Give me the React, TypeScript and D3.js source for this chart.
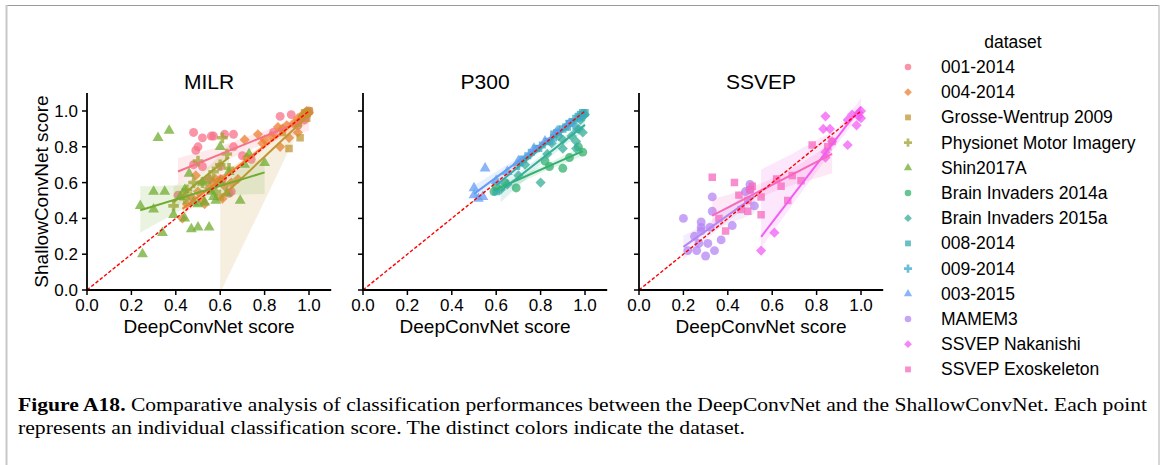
import React, { useMemo } from 'react';
import * as d3 from 'd3';

// ---------------- DATA ----------------
const datasetNames = [
  '001-2014', '004-2014', 'Grosse-Wentrup 2009', 'Physionet Motor Imagery', 'Shin2017A',
  'Brain Invaders 2014a', 'Brain Invaders 2015a', '008-2014', '009-2014', '003-2015',
  'MAMEM3', 'SSVEP Nakanishi', 'SSVEP Exoskeleton',
];
const datasetMarkers = ['circle', 'diamond', 'square', 'plus', 'triangle',
  'circle', 'diamond', 'square', 'plus', 'triangle', 'circle', 'diamond', 'square'];
const panelTitles = ['MILR', 'P300', 'SSVEP'];
const panelDatasets = [[0, 1, 2, 3, 4], [5, 6, 7, 8, 9], [10, 11, 12]];
const tickValues = [0, 0.2, 0.4, 0.6, 0.8, 1.0];
const xLabel = 'DeepConvNet score';
const yLabel = 'ShallowConvNet score';
const legendTitle = 'dataset';

// [DeepConvNet score, ShallowConvNet score]
const bnci001_2014 = [[0.41,0.53],[0.48,0.88],[0.48,0.70],[0.49,0.78],[0.50,0.80],[0.52,0.85],[0.52,0.69],[0.55,0.62],[0.56,0.86],[0.57,0.86],[0.60,0.69],[0.61,0.62],[0.62,0.87],[0.64,0.54],[0.65,0.55],[0.66,0.87],[0.66,0.80],[0.70,0.75],[0.74,0.73],[0.84,0.88],[0.87,0.97],[0.92,0.98],[0.95,0.92],[0.98,0.95],[0.99,0.98],[1.00,1.00]];
const bnci004_2014 = [[0.43,0.40],[0.45,0.48],[0.47,0.52],[0.49,0.64],[0.50,0.55],[0.52,0.50],[0.53,0.48],[0.55,0.57],[0.57,0.60],[0.58,0.62],[0.60,0.62],[0.61,0.51],[0.62,0.58],[0.65,0.60],[0.68,0.62],[0.71,0.84],[0.72,0.74],[0.77,0.87],[0.79,0.82],[0.80,0.84],[0.83,0.86],[0.86,0.91],[0.87,0.80],[0.88,0.90],[0.90,0.92],[0.91,0.85],[0.93,0.93],[0.95,0.88],[0.95,0.96],[0.96,0.95],[0.97,0.97],[0.98,0.99],[0.98,0.97],[0.99,1.00],[0.99,0.98],[1.00,0.99]];
const grosseWentrup2009 = [[0.60,0.52],[0.88,0.88],[0.91,0.79],[0.95,0.93],[0.96,0.85],[0.97,0.97],[0.98,0.99],[0.99,0.96],[0.99,0.99],[1.00,1.00]];
const physionetMI = [[0.39,0.47],[0.44,0.51],[0.45,0.56],[0.48,0.60],[0.50,0.72],[0.52,0.60],[0.55,0.62],[0.57,0.66],[0.58,0.55],[0.60,0.70],[0.61,0.85],[0.63,0.76],[0.64,0.68]];
const shin2017A = [[0.24,0.47],[0.25,0.20],[0.30,0.55],[0.30,0.45],[0.34,0.32],[0.35,0.55],[0.32,0.85],[0.37,0.89],[0.39,0.42],[0.42,0.52],[0.44,0.56],[0.44,0.40],[0.46,0.65],[0.47,0.34],[0.48,0.49],[0.50,0.35],[0.50,0.48],[0.52,0.60],[0.53,0.49],[0.55,0.35],[0.56,0.55],[0.57,0.52],[0.58,0.50],[0.60,0.80],[0.60,0.60],[0.63,0.54],[0.64,0.66],[0.69,0.50],[0.71,0.70],[0.73,0.76],[0.80,0.71]];
const brainInvaders2014a = [[0.59,0.55],[0.60,0.58],[0.64,0.60],[0.69,0.57],[0.82,0.72],[0.84,0.69],[0.90,0.68],[0.93,0.74],[0.97,0.80],[0.99,0.77]];
const brainInvaders2015a = [[0.62,0.56],[0.65,0.59],[0.70,0.64],[0.73,0.70],[0.80,0.60],[0.83,0.76],[0.85,0.82],[0.88,0.86],[0.90,0.79],[0.90,0.84],[0.94,0.86],[0.96,0.79],[0.96,0.83],[0.97,0.90],[0.98,0.95],[0.99,0.88],[0.99,0.97],[1.00,0.98]];
const bnci008_2014 = [[0.60,0.55],[0.72,0.73],[0.78,0.79],[0.83,0.83],[0.86,0.87],[0.88,0.88],[0.90,0.90],[0.92,0.91],[0.93,0.93],[0.95,0.94],[0.96,0.90],[0.97,0.97],[0.98,0.98],[0.99,0.99],[1.00,0.99]];
const bnci009_2014 = [[0.70,0.70],[0.75,0.76],[0.80,0.80],[0.85,0.84],[0.88,0.89],[0.92,0.92],[0.95,0.95],[0.98,0.97]];
const bnci003_2015 = [[0.50,0.53],[0.50,0.57],[0.52,0.51],[0.54,0.52],[0.55,0.68],[0.60,0.61],[0.65,0.66],[0.70,0.72],[0.77,0.79],[0.82,0.83],[0.87,0.88],[0.93,0.93]];
const mamem3 = [[0.20,0.40],[0.22,0.22],[0.25,0.30],[0.26,0.22],[0.27,0.26],[0.28,0.38],[0.28,0.35],[0.28,0.33],[0.30,0.19],[0.31,0.26],[0.32,0.35],[0.33,0.44],[0.33,0.52],[0.34,0.22],[0.37,0.28],[0.42,0.36],[0.48,0.55],[0.50,0.59],[0.50,0.56],[0.52,0.47]];
const ssvepNakanishi = [[0.55,0.22],[0.61,0.32],[0.83,0.90],[0.84,0.97],[0.84,0.77],[0.84,0.74],[0.86,0.90],[0.87,0.83],[0.94,0.81],[0.94,0.95],[0.96,0.98],[0.98,0.92],[0.99,0.97],[0.99,0.99],[1.00,1.00],[1.00,0.96]];
const ssvepExoskeleton = [[0.33,0.63],[0.36,0.40],[0.39,0.33],[0.43,0.60],[0.45,0.53],[0.46,0.45],[0.49,0.44],[0.49,0.50],[0.50,0.56],[0.51,0.58],[0.55,0.52],[0.55,0.42],[0.62,0.62],[0.64,0.58],[0.67,0.50],[0.69,0.64],[0.73,0.61],[0.78,0.81],[0.85,0.80],[0.87,0.83]];

const datasetValues = [bnci001_2014, bnci004_2014, grosseWentrup2009, physionetMI, shin2017A,
  brainInvaders2014a, brainInvaders2015a, bnci008_2014, bnci009_2014, bnci003_2015,
  mamem3, ssvepNakanishi, ssvepExoskeleton];

// ---------------- HUSL palette (seaborn husl_palette) ----------------
const M = [[3.240969941904521, -1.537383177570093, -0.498610760293],
  [-0.96924363628087, 1.87596750150772, 0.041555057407175],
  [0.055630079696993, -0.20397695888897, 1.056971514242878]];
const refU = 0.19783000664283, refV = 0.46831999493879, kappa = 903.2962962, eps = 0.0088564516;
function maxChroma(L: number, H: number) {
  const hrad = (H / 360) * Math.PI * 2;
  const sub1 = Math.pow(L + 16, 3) / 1560896;
  const sub2 = sub1 > eps ? sub1 : L / kappa;
  let min = Infinity;
  for (let c = 0; c < 3; c++) {
    const [m1, m2, m3] = M[c];
    for (let t = 0; t < 2; t++) {
      const top1 = (284517 * m1 - 94839 * m3) * sub2;
      const top2 = (838422 * m3 + 769860 * m2 + 731718 * m1) * L * sub2 - 769860 * t * L;
      const bottom = (632260 * m3 - 126452 * m2) * sub2 + 126452 * t;
      const slope = top1 / bottom, intercept = top2 / bottom;
      const len = intercept / (Math.sin(hrad) - slope * Math.cos(hrad));
      if (len >= 0) min = Math.min(min, len);
    }
  }
  return min;
}
function huslToHex(H: number, S: number, L: number) {
  const C = (maxChroma(L, H) / 100) * S;
  const hr = (H / 360) * Math.PI * 2;
  const U = C * Math.cos(hr), V = C * Math.sin(hr);
  const varU = U / (13 * L) + refU, varV = V / (13 * L) + refV;
  const Y = L <= 8 ? L / kappa : Math.pow((L + 16) / 116, 3);
  const X = 0 - (9 * Y * varU) / ((varU - 4) * varV - varU * varV);
  const Z = (9 * Y - 15 * varV * Y - varV * X) / (3 * varV);
  const lin = M.map(r => r[0] * X + r[1] * Y + r[2] * Z);
  const rgb = lin.map(c => {
    const v = c <= 0.0031308 ? 12.92 * c : 1.055 * Math.pow(c, 1 / 2.4) - 0.055;
    return Math.round(Math.max(0, Math.min(1, v)) * 255);
  });
  return d3.rgb(rgb[0], rgb[1], rgb[2]).formatHex();
}
const datasetColors = datasetNames.map((_, i) => {
  const h = ((i / datasetNames.length + 0.01) % 1) * 359;
  return huslToHex(h, 0.9 * 99, 0.65 * 99);
});

// ---------------- regression with bootstrap CI (as seaborn regplot) ----------------
function regression(pts: number[][], seed: number) {
  const n = pts.length;
  const xs = pts.map(p => p[0]);
  const xmin = d3.min(xs)!, xmax = d3.max(xs)!;
  const grid = d3.range(100).map(i => xmin + ((xmax - xmin) * i) / 99);
  const ols = (sample: number[][]) => {
    const mx = d3.mean(sample, p => p[0])!, my = d3.mean(sample, p => p[1])!;
    let sxx = 0, sxy = 0;
    sample.forEach(p => { sxx += (p[0] - mx) ** 2; sxy += (p[0] - mx) * (p[1] - my); });
    const b = sxx > 1e-12 ? sxy / sxx : 0;
    return [my - b * mx, b];
  };
  const [a, b] = ols(pts);
  const rng = d3.randomLcg(seed);
  const boots: number[][] = grid.map(() => []);
  for (let k = 0; k < 1000; k++) {
    const s: number[][] = [];
    for (let i = 0; i < n; i++) s.push(pts[Math.floor(rng() * n)]);
    const [ba, bb] = ols(s);
    grid.forEach((g, j) => boots[j].push(ba + bb * g));
  }
  const band = grid.map((g, j) => {
    const arr = boots[j].sort(d3.ascending);
    return { x: g, lo: d3.quantileSorted(arr, 0.025)!, hi: d3.quantileSorted(arr, 0.975)! };
  });
  return { line: [[xmin, a + b * xmin], [xmax, a + b * xmax]], band };
}

// ---------------- layout ----------------
const W = 1168, H = 465;
const axisX0 = [87, 363, 639];
const unit = 222;
const yBottom = 290;
const FONT = "'Liberation Sans', Arial, Helvetica, sans-serif";

function markerPath(m: string, size: number) {
  const t = m === 'circle' ? d3.symbolCircle : m === 'plus' ? d3.symbolCross
    : m === 'triangle' ? d3.symbolTriangle : d3.symbolSquare;
  return d3.symbol().type(t).size(size)() as string;
}
const plotSize: Record<string, number> = { circle: 62, diamond: 52, square: 56, plus: 62, triangle: 52 };
const legendSize: Record<string, number> = { circle: 34, diamond: 30, square: 34, plus: 36, triangle: 30 };

function Marker({ m, x, y, size, color, opacity }: any) {
  const tr = m === 'diamond' ? `translate(${x},${y}) rotate(45)` : `translate(${x},${y})`;
  return <path d={markerPath(m, size)} transform={tr} fill={color} fillOpacity={opacity} />;
}

function Panel({ idx, regs }: { idx: number; regs: any[] }) {
  const x0 = axisX0[idx];
  const xs = d3.scaleLinear().domain([0, 1.1]).range([x0, x0 + unit * 1.1]);
  const ys = d3.scaleLinear().domain([0, 1.1]).range([yBottom, yBottom - 179 * 1.1]);
  const ids = panelDatasets[idx];
  const area = d3.area<any>().x(d => xs(d.x)).y0(d => ys(d.lo)).y1(d => ys(d.hi));
  const line = d3.line<number[]>().x(d => xs(d[0])).y(d => ys(d[1]));
  const clipId = `clip${idx}`;
  const cx = (xs(0) + xs(1.1)) / 2;
  return (
    <g>
      <defs>
        <clipPath id={clipId}>
          <rect x={xs(0)} y={ys(1.1)} width={xs(1.1) - xs(0)} height={ys(0) - ys(1.1)} />
        </clipPath>
      </defs>
      <g clipPath={`url(#${clipId})`}>
        {ids.map(di => (
          <g key={di}>
            {datasetValues[di].map((p, k) => (
              <Marker key={k} m={datasetMarkers[di]} x={xs(p[0])} y={ys(p[1])}
                size={plotSize[datasetMarkers[di]]} color={datasetColors[di]} opacity={0.75} />
            ))}
            <path d={area(regs[di].band) as string} fill={datasetColors[di]} fillOpacity={0.15} />
          </g>
        ))}
        {ids.map(di => (
          <path key={di} d={line(regs[di].line as any) as string} stroke={datasetColors[di]}
            strokeWidth={2} fill="none" />
        ))}
        <path d={line([[0, 0], [1, 1]]) as string} stroke="#ff0000" strokeWidth={1.4}
          strokeDasharray="3.5,2" fill="none" />
      </g>
      {/* axes */}
      <line x1={xs(0)} x2={xs(1.1)} y1={yBottom} y2={yBottom} stroke="#000" strokeWidth={1.8} />
      <line x1={x0} x2={x0} y1={ys(0) + 0.9} y2={ys(1.1)} stroke="#000" strokeWidth={1.8} />
      {tickValues.map(t => (
        <g key={`x${t}`}>
          <line x1={xs(t)} x2={xs(t)} y1={yBottom} y2={yBottom + 5} stroke="#000" strokeWidth={1.5} />
          <text x={xs(t)} y={yBottom + 21} textAnchor="middle" fontSize={17} fontFamily={FONT}>{t.toFixed(1)}</text>
        </g>
      ))}
      {tickValues.map(t => (
        <g key={`y${t}`}>
          <line x1={x0 - 5} x2={x0} y1={ys(t)} y2={ys(t)} stroke="#000" strokeWidth={1.5} />
          {idx === 0 && (
            <text x={x0 - 9} y={ys(t) + 6} textAnchor="end" fontSize={17} fontFamily={FONT}>{t.toFixed(1)}</text>
          )}
        </g>
      ))}
      <text x={cx} y={333} textAnchor="middle" fontSize={19} fontFamily={FONT}>{xLabel}</text>
      <text x={cx} y={89} textAnchor="middle" fontSize={21} fontFamily={FONT}>{panelTitles[idx]}</text>
      {idx === 0 && (
        <text transform={`translate(48,${(ys(0) + ys(1.1)) / 2}) rotate(-90)`} textAnchor="middle"
          fontSize={19} fontFamily={FONT}>{yLabel}</text>
      )}
    </g>
  );
}

export default function App() {
  const regs = useMemo(() => datasetValues.map((pts, i) => regression(pts, 0.1 + i * 0.05)), []);
  return (
    <svg width={W} height={H} style={{ position: 'absolute', left: 0, top: 0, background: '#fff' }}>
      <rect x={0} y={0} width={W} height={H} fill="#fff" />
      {/* frame */}
      <line x1={6} x2={1159} y1={5.5} y2={5.5} stroke="#9a9a9a" strokeWidth={1} />
      <line x1={6.5} x2={6.5} y1={5} y2={H} stroke="#c8c8c8" strokeWidth={2} />
      <line x1={1159} x2={1159} y1={5} y2={H} stroke="#c8c8c8" strokeWidth={1.5} />
      {[0, 1, 2].map(i => <Panel key={i} idx={i} regs={regs} />)}
      {/* legend */}
      <text x={1013} y={48} textAnchor="middle" fontSize={17.5} fontFamily={FONT}>{legendTitle}</text>
      {datasetNames.map((nm, i) => {
        const y = 67 + 25.2 * i;
        return (
          <g key={nm}>
            <Marker m={datasetMarkers[i]} x={908} y={y} size={legendSize[datasetMarkers[i]]}
              color={datasetColors[i]} opacity={0.75} />
            <text x={941} y={y + 6} fontSize={17.5} fontFamily={FONT}>{nm}</text>
          </g>
        );
      })}
      {/* caption */}
      <text x={18} y={411} fontSize={19} fontFamily="'Liberation Serif', 'Times New Roman', serif"
        textLength={1129} lengthAdjust="spacingAndGlyphs">
        <tspan fontWeight="bold">Figure A18.</tspan> Comparative analysis of classification performances between the DeepConvNet and the ShallowConvNet. Each point
      </text>
      <text x={18} y={434} fontSize={19} fontFamily="'Liberation Serif', 'Times New Roman', serif"
        textLength={727} lengthAdjust="spacingAndGlyphs">
        represents an individual classification score. The distinct colors indicate the dataset.
      </text>
    </svg>
  );
}
